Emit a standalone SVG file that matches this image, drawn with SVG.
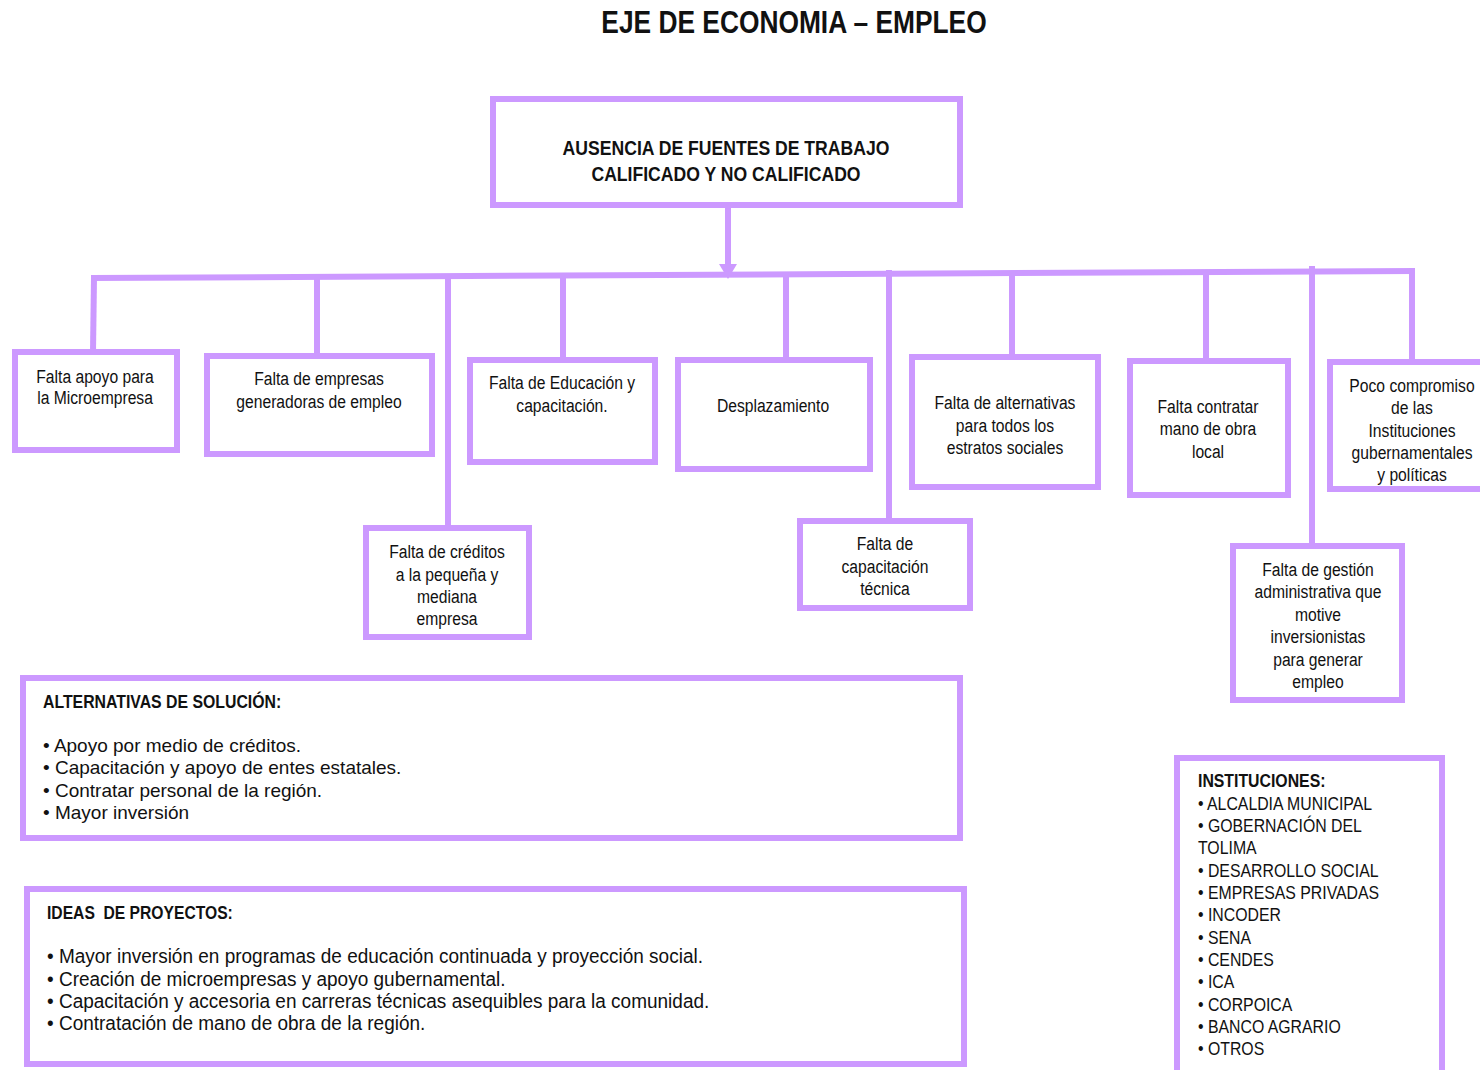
<svg xmlns="http://www.w3.org/2000/svg" width="1480" height="1070" viewBox="0 0 1480 1070">
<style>
.box{fill:#fff;stroke:#CC99FF;stroke-width:6}
.conn{stroke:#CC99FF;stroke-width:6;fill:none}
.n{font-family:"Liberation Sans Narrow","Liberation Sans",Arial,sans-serif;font-size:18px;fill:#111;transform-box:fill-box;transform:scaleX(0.87)}
.c{text-anchor:middle;transform-origin:50% 50%}
.l{transform-origin:0% 50%}
.b{font-weight:bold}
.w{font-family:"Liberation Sans",Arial,sans-serif;font-size:19px;fill:#111}
.i{font-size:21px;transform:scaleX(0.905)}
.s{transform:scaleX(0.88)}
</style>
<rect width="1480" height="1070" fill="#fff"/>
<text x="794" y="33" class="n c b" style="font-size:31px;transform:scaleX(0.85)">EJE DE ECONOMIA – EMPLEO</text>

<g id="connectors">
<line class="conn" x1="728" y1="207" x2="728" y2="266"/>
<polygon points="719,264 737,264 728,279" fill="#CC99FF"/>
<line class="conn" x1="91" y1="278" x2="1415" y2="271"/>
<line class="conn" x1="94" y1="278" x2="93" y2="352"/>
<line class="conn" x1="317" y1="277" x2="317" y2="356"/>
<line class="conn" x1="448" y1="277" x2="448" y2="528"/>
<line class="conn" x1="563" y1="276" x2="563" y2="360"/>
<line class="conn" x1="786" y1="275" x2="786" y2="360"/>
<line class="conn" x1="889" y1="270" x2="889" y2="521"/>
<line class="conn" x1="1012" y1="274" x2="1012" y2="357"/>
<line class="conn" x1="1206" y1="273" x2="1206" y2="361"/>
<line class="conn" x1="1312" y1="266" x2="1312" y2="546"/>
<line class="conn" x1="1412" y1="270" x2="1412" y2="362"/>
</g>

<g id="root">
<rect class="box" x="493" y="99" width="467" height="106"/>
<text class="n c b s" style="font-size:20px" x="726" y="155">AUSENCIA DE FUENTES DE TRABAJO</text>
<text class="n c b s" style="font-size:20px" x="726" y="181">CALIFICADO Y NO CALIFICADO</text>
</g>

<g id="n1">
<rect class="box" x="15" y="352" width="162" height="98"/>
<text class="n c" x="95" y="383">Falta apoyo para</text>
<text class="n c" x="95" y="404">la Microempresa</text>
</g>
<g id="n2">
<rect class="box" x="207" y="356" width="225" height="98"/>
<text class="n c" x="319" y="385">Falta de empresas</text>
<text class="n c" x="319" y="408">generadoras de empleo</text>
</g>
<g id="n3">
<rect class="box" x="366" y="528" width="163" height="109"/>
<text class="n c" x="447" y="558">Falta de créditos</text>
<text class="n c" x="447" y="581">a la pequeña y</text>
<text class="n c" x="447" y="603">mediana</text>
<text class="n c" x="447" y="625">empresa</text>
</g>
<g id="n4">
<rect class="box" x="470" y="360" width="185" height="102"/>
<text class="n c" x="562" y="389">Falta de Educación y</text>
<text class="n c" x="562" y="412">capacitación.</text>
</g>
<g id="n5">
<rect class="box" x="678" y="360" width="192" height="109"/>
<text class="n c" x="773" y="412">Desplazamiento</text>
</g>
<g id="n6">
<rect class="box" x="800" y="521" width="170" height="87"/>
<text class="n c" x="885" y="550">Falta de</text>
<text class="n c" x="885" y="573">capacitación</text>
<text class="n c" x="885" y="595">técnica</text>
</g>
<g id="n7">
<rect class="box" x="912" y="357" width="186" height="130"/>
<text class="n c" x="1005" y="409">Falta de alternativas</text>
<text class="n c" x="1005" y="432">para todos los</text>
<text class="n c" x="1005" y="454">estratos sociales</text>
</g>
<g id="n8">
<rect class="box" x="1130" y="361" width="158" height="134"/>
<text class="n c" x="1208" y="413">Falta contratar</text>
<text class="n c" x="1208" y="435">mano de obra</text>
<text class="n c" x="1208" y="458">local</text>
</g>
<g id="n9">
<rect class="box" x="1330" y="362" width="170" height="127"/>
<text class="n c" x="1412" y="392">Poco compromiso</text>
<text class="n c" x="1412" y="414">de las</text>
<text class="n c" x="1412" y="437">Instituciones</text>
<text class="n c" x="1412" y="459">gubernamentales</text>
<text class="n c" x="1412" y="481">y políticas</text>
</g>
<g id="n10">
<rect class="box" x="1233" y="546" width="169" height="154"/>
<text class="n c" x="1318" y="576">Falta de gestión</text>
<text class="n c" x="1318" y="598">administrativa que</text>
<text class="n c" x="1318" y="621">motive</text>
<text class="n c" x="1318" y="643">inversionistas</text>
<text class="n c" x="1318" y="666">para generar</text>
<text class="n c" x="1318" y="688">empleo</text>
</g>

<g id="alternativas">
<rect class="box" x="23" y="678" width="937" height="160"/>
<text class="n l b s" x="43" y="708">ALTERNATIVAS DE SOLUCIÓN:</text>
<text class="w" x="43" y="752">• Apoyo por medio de créditos.</text>
<text class="w" x="43" y="774">• Capacitación y apoyo de entes estatales.</text>
<text class="w" x="43" y="797">• Contratar personal de la región.</text>
<text class="w" x="43" y="819">• Mayor inversión</text>
</g>

<g id="ideas">
<rect class="box" x="27" y="889" width="937" height="175"/>
<text class="n l b" x="47" y="919" xml:space="preserve">IDEAS  DE PROYECTOS:</text>
<text class="n l i" x="47" y="963">• Mayor inversión en programas de educación continuada y proyección social.</text>
<text class="n l i" x="47" y="986">• Creación de microempresas y apoyo gubernamental.</text>
<text class="n l i" x="47" y="1008">• Capacitación y accesoria en carreras técnicas asequibles para la comunidad.</text>
<text class="n l i" x="47" y="1030">• Contratación de mano de obra de la región.</text>
</g>

<g id="instituciones">
<rect class="box" x="1177" y="758" width="265" height="330"/>
<text class="n l b s" x="1198" y="787">INSTITUCIONES:</text>
<text class="n l s" x="1198" y="810">• ALCALDIA MUNICIPAL</text>
<text class="n l s" x="1198" y="832">• GOBERNACIÓN DEL</text>
<text class="n l s" x="1198" y="854">TOLIMA</text>
<text class="n l s" x="1198" y="877">• DESARROLLO SOCIAL</text>
<text class="n l s" x="1198" y="899">• EMPRESAS PRIVADAS</text>
<text class="n l s" x="1198" y="921">• INCODER</text>
<text class="n l s" x="1198" y="944">• SENA</text>
<text class="n l s" x="1198" y="966">• CENDES</text>
<text class="n l s" x="1198" y="988">• ICA</text>
<text class="n l s" x="1198" y="1011">• CORPOICA</text>
<text class="n l s" x="1198" y="1033">• BANCO AGRARIO</text>
<text class="n l s" x="1198" y="1055">• OTROS</text>
</g>
</svg>
